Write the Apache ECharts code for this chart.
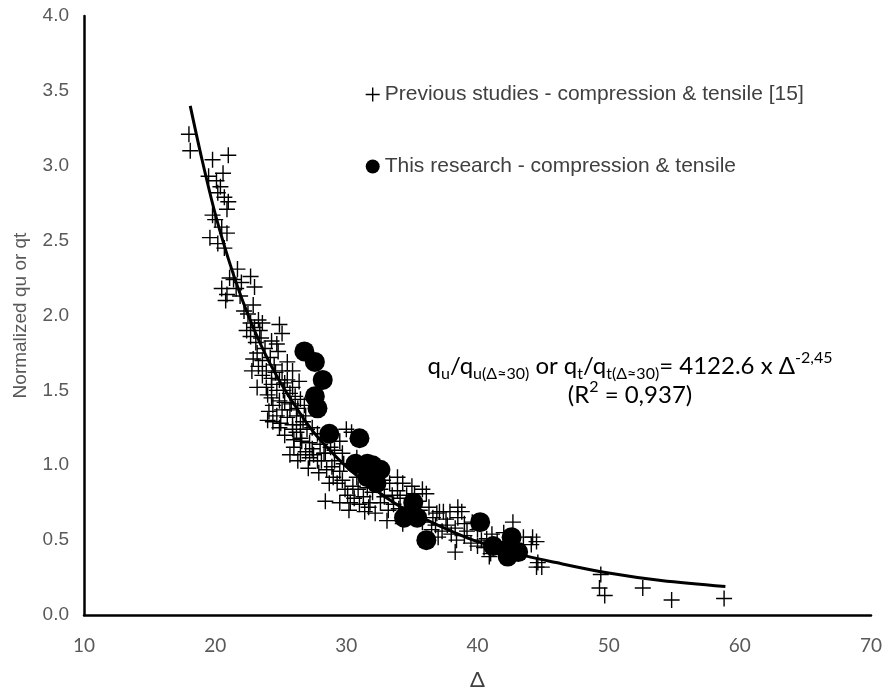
<!DOCTYPE html>
<html><head><meta charset="utf-8">
<script src="https://cdn.jsdelivr.net/npm/echarts@6/dist/echarts.min.js"></script>
<style>html,body{margin:0;padding:0;background:#fff}#c{width:889px;height:696px}</style>
</head><body><div id="c"></div>
<script>
// ---- data ----
const xTicks = [10, 20, 30, 40, 50, 60, 70];
const yTicks = [0, 0.5, 1, 1.5, 2, 2.5, 3, 3.5, 4];
const prevName = 'Previous studies - compression & tensile [15]';
const researchName = 'This research - compression & tensile';

const prevPoints = [
  [18.0,3.21],[18.1,3.10],[19.8,3.04],[21.0,3.07],[20.6,2.95],[19.5,2.93],[20.1,2.90],[20.4,2.86],[20.2,2.82],[20.7,2.79],
  [21.0,2.76],[20.9,2.71],[19.8,2.67],[20.0,2.64],[20.5,2.59],[20.9,2.55],[19.6,2.52],[20.2,2.48],[20.7,2.45],[21.7,2.31],
  [22.7,2.26],[21.1,2.25],
  [21.4,2.24],[23.0,2.19],[20.5,2.18],[20.9,2.14],[20.8,2.10],[22.9,2.07],[22.5,2.01],[23.3,1.97],[22.7,1.95],[23.6,1.95],
  [24.9,1.94],[23.0,1.92],[23.4,1.90],[25.1,1.88],[22.7,1.86],[24.3,1.83],[24.7,1.81],[24.8,1.76],[23.2,1.75],[22.9,1.71],
  [23.6,1.70],[23.3,1.66],[22.8,1.63],[23.9,1.63],[23.6,1.60],[25.1,1.63],[25.5,1.69],[25.9,1.63],[24.3,1.58],[24.9,1.57],
  [25.5,1.57],[26.4,1.56],[23.2,1.52],[24.3,1.54],[24.7,1.50],[25.2,1.50],[25.7,1.48],[24.3,1.45],[26.1,1.46],[24.9,1.43],
  [24.4,1.40],[26.5,1.44],[25.1,1.37],[25.7,1.37],[24.7,1.33],[25.5,1.32],[26.2,1.33],[24.4,1.29],[24.9,1.25],[25.9,1.27],
  [26.5,1.27],[26.2,1.22],[27.0,1.24],[27.4,1.25],[27.8,1.21],[30.0,1.24],[26.5,1.18],
  [26.7,1.29],[25.9,1.24],[30.4,1.22],[26.6,1.16],[28.0,1.14],[27.4,1.11],[29.5,1.16],[25.7,1.07],[26.5,1.07],[27.5,1.07],
  [28.4,1.08],[29.1,1.10],[29.7,1.08],[26.3,1.03],[28.1,1.03],[29.1,1.03],[27.1,0.98],[28.5,0.97],[29.5,0.96],[29.0,0.92],
  [29.7,0.90],[30.8,0.92],[30.5,0.86],[32.8,0.90],[33.9,0.92],[33.3,0.88],[34.3,0.88],[31.6,0.85],[32.6,0.84],[33.9,0.83],
  [36.1,0.81],[35.2,0.81],[28.4,0.76],[29.5,0.75],[30.3,0.75],[31.0,0.74],[31.8,0.75],[32.6,0.75],[34.1,0.78],[31.4,0.69],
  [32.2,0.68],[33.2,0.70],[36.9,0.68],[37.4,0.69],
  [35.0,0.86],[35.8,0.84],[34.3,0.61],[36.6,0.65],[37.1,0.69],[37.9,0.69],[38.5,0.72],[38.5,0.65],[37.7,0.60],[38.3,0.58],
  [39.0,0.61],[38.4,0.50],[38.3,0.42],[39.2,0.56],[40.0,0.57],[40.3,0.50],[41.1,0.54],[41.5,0.49],[42.7,0.62],[43.5,0.52],
  [44.2,0.52],[44.1,0.47],[44.5,0.49],[44.6,0.35],[44.9,0.32],[44.5,0.32],[40.9,0.39],[40.0,0.46],
  [49.4,0.27],[49.3,0.18],[49.7,0.13],[52.6,0.18],[54.8,0.10],[58.8,0.11],
  [24.0,1.47],[24.6,1.62],[25.3,1.42],[25.9,1.52],[24.1,1.36],[25.0,1.28],[26.0,1.12],[26.9,1.09],[27.8,1.03],[28.9,0.99],
  [29.3,0.88],[30.1,0.80],[30.9,0.84],[31.3,0.79],[32.0,0.82],[32.9,0.79],[33.6,0.74],[34.0,0.71],[34.8,0.72],[35.6,0.70],
  [36.3,0.72],[36.8,0.60],[37.3,0.56],[38.0,0.54],[39.5,0.48],[40.5,0.45],[41.8,0.44],[43.0,0.47],[23.8,1.78],[22.4,1.90],
  [21.9,2.13],[22.2,2.03],[23.1,1.82],[26.8,1.40],[27.2,1.15],[28.3,1.08],[29.8,1.01],[31.2,0.95],[30.2,0.70],[33.1,0.63],
  [35.8,0.62],[37.6,0.64],[38.8,0.69],[39.6,0.62],[42.0,0.55],[41.0,0.41],
  [23.5,1.85],[24.2,1.72],[24.5,1.67],[25.3,1.55],[25.8,1.41],[26.3,1.38],[24.0,1.30],[25.3,1.20],[26.0,1.17],[27.2,1.05],
  [27.9,0.95],[28.7,0.88],[29.9,0.84],[30.6,0.78],[31.7,0.72],[33.5,0.80],[34.6,0.80],[35.5,0.76],[36.5,0.57],[37.0,0.52],
  [39.0,0.53],[40.7,0.51],[22.0,2.22],[21.6,2.18],[23.9,1.52],[26.9,1.33],[30.8,1.05],[28.8,1.12]
];

const researchPoints = [
  [26.8,1.76],[27.6,1.69],[28.2,1.57],[27.6,1.46],[27.8,1.38],[28.7,1.21],[31.0,1.18],[30.7,1.01],[31.6,1.01],[32.6,0.97],
  [31.6,0.92],[32.3,0.88],[32.0,1.00],[35.1,0.75],[34.4,0.65],[35.4,0.65],[36.1,0.50],[40.2,0.62],[41.2,0.46],[42.6,0.52],
  [42.3,0.39],[43.1,0.42],[42.5,0.45]
];

// power trend line
const trendX = [18.1, 19, 20, 21, 22, 23, 24, 25, 26, 27, 28, 30, 32, 34, 36, 38, 40, 43, 46, 50, 54, 58.9];
const trendY = [3.40, 3.04, 2.68, 2.38, 2.12, 1.90, 1.71, 1.55, 1.41, 1.28, 1.17, 0.99, 0.85, 0.73, 0.64, 0.56, 0.49, 0.41, 0.35, 0.28, 0.23, 0.19];

// ---- chart ----
const chart = echarts.init(document.getElementById('c'), null, {renderer: 'canvas'});
const crossPath = 'path://M8,0L8,16M0,8L16,8';
const ARIAL = 'Liberation Sans, Arial, sans-serif';
const CAL = 'Lato, Carlito, sans-serif';

chart.setOption({
  animation: false,
  backgroundColor: '#fff',
  grid: {left: 84, right: 18, top: 16, bottom: 69, containLabel: false},
  xAxis: {
    type: 'value', min: xTicks[0], max: xTicks[xTicks.length - 1], interval: 10,
    name: 'Δ', nameLocation: 'middle', nameGap: 54,
    nameTextStyle: {fontFamily: CAL, fontSize: 22, color: '#404040'},
    axisLine: {show: true, onZero: false, lineStyle: {color: '#000', width: 2.5}},
    axisTick: {show: false}, splitLine: {show: false},
    axisLabel: {fontFamily: CAL, fontSize: 19, color: '#595959', margin: 21}
  },
  yAxis: {
    type: 'value', min: yTicks[0], max: yTicks[yTicks.length - 1], interval: 0.5,
    name: 'Normalized qu or qt', nameLocation: 'middle', nameGap: 54, nameRotate: 90,
    nameTextStyle: {fontFamily: ARIAL, fontSize: 19, color: '#595959'},
    axisLine: {show: true, onZero: false, lineStyle: {color: '#000', width: 2.5}},
    axisTick: {show: false}, splitLine: {show: false},
    axisLabel: {fontFamily: ARIAL, fontSize: 19, color: '#595959', margin: 15,
      formatter: v => v.toFixed(1)}
  },
  legend: {
    orient: 'vertical', left: 360, top: 79, itemGap: 51, itemWidth: 14, itemHeight: 14,
    selectedMode: false,
    textStyle: {fontFamily: ARIAL, fontSize: 21, color: '#404040'},
    data: [
      {name: prevName, icon: crossPath, itemStyle: {color: 'rgba(0,0,0,0)', borderColor: '#000', borderWidth: 1.4, opacity: 1}},
      {name: researchName, icon: 'circle', itemStyle: {color: '#000', opacity: 1}}
    ]
  },
  graphic: [
    {type: 'text', z: 100, style: {
      x: 630, y: 366, align: 'center', verticalAlign: 'middle', fill: '#000',
      text: '{m|q}{s|u}{m|/q}{s|u(Δ≈30)}{m| or q}{s|t}{m|/q}{s|t(Δ≈30)}{m|= 4122.6 x Δ}{p|-2,45}',
      rich: {
        m: {fontFamily: CAL, fontSize: 24, lineHeight: 32, verticalAlign: 'middle', fill: '#000'},
        s: {fontFamily: CAL, fontSize: 16, lineHeight: 16, verticalAlign: 'bottom', fill: '#000'},
        p: {fontFamily: CAL, fontSize: 16, lineHeight: 16, verticalAlign: 'top', fill: '#000'}
      }
    }},
    {type: 'text', z: 100, style: {
      x: 630, y: 395, align: 'center', verticalAlign: 'middle', fill: '#000',
      text: '{m|(R}{p|2}{m| = 0,937)}',
      rich: {
        m: {fontFamily: CAL, fontSize: 24, lineHeight: 32, verticalAlign: 'middle', fill: '#000'},
        p: {fontFamily: CAL, fontSize: 16, lineHeight: 16, verticalAlign: 'top', fill: '#000'}
      }
    }}
  ],
  series: [
    {
      name: prevName, type: 'scatter', z: 2,
      symbol: crossPath, symbolSize: 16,
      itemStyle: {color: 'rgba(0,0,0,0)', borderColor: '#000', borderWidth: 1.4, opacity: 1},
      emphasis: {disabled: true},
      data: prevPoints
    },
    {
      name: 'trend', type: 'line', z: 3, smooth: 0.35, showSymbol: false, symbol: 'none',
      lineStyle: {color: '#000', width: 3},
      emphasis: {disabled: true},
      data: trendX.map((x, i) => [x, trendY[i]])
    },
    {
      name: researchName, type: 'scatter', z: 4,
      symbol: 'circle', symbolSize: 20,
      itemStyle: {color: '#000', opacity: 1},
      emphasis: {disabled: true},
      data: researchPoints
    }
  ]
});
</script>
</body></html>
